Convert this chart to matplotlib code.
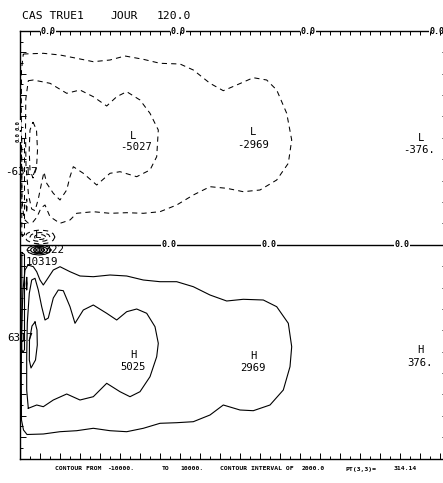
import numpy as np
import matplotlib.pyplot as plt

# contour lines: x = grid distance from the west wall,
# y = distance from the middle (zero) line, positive to the north
neg_2000 = [(0.33, 19.05), (2.33, 19.12), (4.0, 18.95), (5.67, 18.62), (7.33, 18.28), (9.0, 18.45),
            (10.5, 18.85), (12.33, 18.52), (14.0, 18.12), (16.0, 18.05), (17.33, 17.45), (19.0, 16.12),
            (20.33, 15.38), (21.67, 15.95), (23.33, 16.68), (24.67, 16.45), (25.67, 15.45), (26.67, 13.12),
            (27.17, 10.45), (26.83, 8.12), (25.67, 6.45), (24.0, 5.45), (22.33, 5.28), (20.67, 5.62),
            (19.0, 5.78), (17.33, 4.95), (15.67, 3.95), (14.0, 3.28), (12.33, 3.12), (10.67, 3.18),
            (9.0, 3.12), (7.33, 3.28), (5.67, 3.12), (5.0, 2.45), (4.0, 2.12), (3.0, 2.78), (2.5, 3.95),
            (2.1, 3.65), (1.7, 2.75), (1.3, 2.25), (0.8, 2.15), (0.4, 2.55), (0.2, 4.45), (0.15, 8.45),
            (0.13, 13.45), (0.15, 17.45)]
neg_4000 = [(0.83, 16.38), (1.33, 16.45), (3.0, 16.12), (4.67, 15.12), (6.0, 15.45), (7.33, 14.78),
            (8.67, 13.85), (9.67, 14.78), (10.67, 15.28), (12.0, 14.45), (13.0, 13.12), (13.83, 11.45),
            (13.67, 8.78), (13.0, 7.45), (11.67, 6.78), (10.0, 7.28), (9.0, 7.12), (7.67, 5.95),
            (6.33, 7.12), (5.33, 7.78), (5.0, 6.78), (4.67, 5.45), (4.0, 4.45), (3.33, 5.12), (2.67, 6.12),
            (2.4, 7.25), (2.17, 6.22), (1.83, 4.55), (1.5, 3.38), (1.17, 3.55), (0.85, 4.95), (0.6, 7.85),
            (0.55, 11.25), (0.58, 14.55)]
neg_6000 = [(1.3, 12.25), (1.65, 11.45), (1.75, 9.45), (1.65, 7.65), (1.3, 6.65), (1.0, 7.45),
            (0.92, 9.45), (1.0, 11.45)]
neg_wall = [(0.2, 0.8), (0.45, 1.0), (0.45, 10.5), (0.3, 10.8), (0.18, 10.5), (0.18, 1.0)]
neg_small = [(0.67, 3.3), (0.72, 3.9), (0.67, 4.55), (0.62, 3.9)]
neg_core1 = [(3.5, 0.75), (3.3, 1.1), (2.75, 1.36), (2.0, 1.45), (1.25, 1.36), (0.7, 1.1), (0.5, 0.75),
             (0.7, 0.4), (1.25, 0.14), (2.0, 0.05), (2.75, 0.14), (3.3, 0.4)]
neg_core2 = [(3.0, 0.75), (2.87, 0.98), (2.5, 1.14), (2.0, 1.2), (1.5, 1.14), (1.13, 0.98), (1.0, 0.75),
             (1.13, 0.52), (1.5, 0.36), (2.0, 0.3), (2.5, 0.36), (2.87, 0.52)]
neg_core3 = [(2.55, 0.75), (2.48, 0.88), (2.28, 0.97), (2.0, 1.0), (1.72, 0.97), (1.52, 0.88),
             (1.45, 0.75), (1.52, 0.62), (1.72, 0.53), (2.0, 0.5), (2.28, 0.53), (2.48, 0.62)]

pos_2000 = [(0.8, -2.05), (0.5, -2.55), (0.3, -4.55), (0.15, -8.55), (0.13, -13.55), (0.15, -17.55),
            (0.35, -18.55), (0.7, -19.0), (2.33, -18.95), (4.0, -18.72), (5.67, -18.62), (7.33, -18.38),
            (9.0, -18.62), (10.67, -18.72), (12.33, -18.38), (14.0, -17.88), (15.67, -17.82),
            (17.33, -17.72), (19.0, -17.05), (20.33, -16.05), (22.0, -16.55), (23.33, -16.62),
            (25.0, -16.05), (26.33, -14.55), (27.0, -12.22), (27.17, -10.22), (26.83, -7.88),
            (25.67, -6.22), (24.33, -5.55), (22.33, -5.48), (20.67, -5.65), (19.0, -5.05), (17.33, -4.22),
            (15.67, -3.72), (14.0, -3.72), (12.33, -3.55), (10.67, -3.15), (9.0, -3.05), (7.33, -3.22),
            (6.0, -3.15), (5.0, -2.72), (4.0, -2.22), (3.33, -2.55), (2.67, -3.55), (2.33, -4.05),
            (2.0, -3.55), (1.67, -2.72), (1.33, -2.22)]
pos_4000 = [(0.83, -16.38), (1.67, -16.05), (2.33, -16.22), (3.33, -15.55), (4.67, -14.95), (6.0, -15.55),
            (7.33, -15.22), (8.67, -13.88), (10.0, -14.72), (11.0, -15.22), (12.0, -14.72), (13.0, -13.22),
            (13.67, -11.22), (13.83, -9.88), (13.5, -8.22), (12.67, -6.88), (11.67, -6.45), (10.67, -6.72),
            (9.67, -7.55), (8.67, -6.88), (7.33, -6.05), (6.33, -6.55), (5.5, -7.88), (5.0, -6.22),
            (4.33, -4.62), (3.83, -4.55), (3.33, -5.35), (2.83, -7.35), (2.5, -7.55), (2.17, -6.22),
            (1.83, -4.55), (1.5, -3.38), (1.17, -3.55), (0.93, -4.88), (0.73, -7.85), (0.67, -11.22),
            (0.67, -14.55)]
pos_6000 = [(1.5, -7.75), (1.7, -8.55), (1.73, -10.05), (1.55, -11.55), (1.1, -12.35), (0.93, -11.55),
            (0.95, -9.55), (1.2, -8.15)]
pos_wall = [(0.2, -0.8), (0.45, -1.0), (0.45, -10.5), (0.3, -10.8), (0.18, -10.5), (0.18, -1.0)]
pos_small = [(0.67, -3.3), (0.72, -3.9), (0.67, -4.55), (0.62, -3.9)]
pos_core1 = [(3.1, -0.55), (2.94, -0.3), (2.5, -0.12), (1.9, -0.05), (1.3, -0.12), (0.86, -0.3),
             (0.7, -0.55), (0.86, -0.8), (1.3, -0.98), (1.9, -1.05), (2.5, -0.98), (2.94, -0.8)]
pos_core2 = [(2.75, -0.55), (2.64, -0.37), (2.33, -0.23), (1.9, -0.18), (1.47, -0.23), (1.16, -0.37),
             (1.05, -0.55), (1.16, -0.73), (1.47, -0.87), (1.9, -0.92), (2.33, -0.87), (2.64, -0.73)]
pos_core3 = [(2.45, -0.55), (2.38, -0.43), (2.18, -0.33), (1.9, -0.3), (1.62, -0.33), (1.42, -0.43),
             (1.35, -0.55), (1.42, -0.67), (1.62, -0.77), (1.9, -0.8), (2.18, -0.77), (2.38, -0.67)]
pos_core4 = [(2.18, -0.55), (2.14, -0.49), (2.04, -0.44), (1.9, -0.42), (1.76, -0.44), (1.66, -0.49),
             (1.62, -0.55), (1.66, -0.61), (1.76, -0.66), (1.9, -0.68), (2.04, -0.66), (2.14, -0.61)]

neg_lines = [neg_2000, neg_4000, neg_6000, neg_wall, neg_small, neg_core1, neg_core2, neg_core3]
pos_lines = [pos_2000, pos_4000, pos_6000, pos_wall, pos_small, pos_core1, pos_core2, pos_core3, pos_core4]

# zero contour (middle line) and where its labels sit
zero_x = [0.0, 42.4]
zero_y = [0.0, 0.0]
mid_label_x = [14.9, 24.9, 38.2]
top_label_x = [2.8, 15.8, 28.8, 41.7]
left_label_y = [11.95, 10.75]

# highs / lows
low_pos = [(11.27, 10.85), (23.27, 11.28), (40.1, 10.65)]
low_val_pos = [(11.58, 9.72), (23.33, 9.95), (39.9, 9.45)]
low_vals = ['-5027', '-2969', '-376.']
high_pos = [(11.33, -11.05), (23.33, -11.15), (40.0, -10.55)]
high_val_pos = [(11.33, -12.22), (23.33, -12.32), (40.0, -11.8)]
high_vals = ['5025', '2969', '376.']
edge_vals = ['-6317', '6317', '-10322', '10319']
edge_pos = [(0.15, 7.25), (0.05, -9.35), (2.5, -0.55), (2.15, -1.75)]

xmin, xmax = 0.0, 42.4
ymin, ymax = -21.4, 21.35
mono = 'DejaVu Sans Mono'

fig = plt.figure(figsize=(4.43, 4.83), dpi=100)
ax = fig.add_axes([20 / 443, 24.5 / 483, 424 / 443, 427.5 / 483])
ax.set_xlim(xmin, xmax)
ax.set_ylim(ymin, ymax)

for line in neg_lines:
    arr = np.array(line + [line[0]])
    ax.plot(arr[:, 0], arr[:, 1], color='k', lw=0.75, ls=(0, (5, 4)))
for line in pos_lines:
    arr = np.array(line + [line[0]])
    ax.plot(arr[:, 0], arr[:, 1], color='k', lw=0.8)

ax.plot(zero_x, zero_y, color='k', lw=1.0)
zbox = dict(facecolor='white', edgecolor='none', pad=0.6)
for x in mid_label_x:
    ax.text(x, 0, '0.0', family=mono, weight='bold', size=6, ha='center', va='center', bbox=zbox)
for x in top_label_x:
    ax.text(x, ymax, '0.0', family=mono, weight='bold', size=6, ha='center', va='center', bbox=zbox)
for y in left_label_y:
    ax.text(-0.2, y, '0.0', family=mono, weight='bold', size=4, ha='center', va='center',
            rotation=90, bbox=dict(facecolor='white', edgecolor='none', pad=0.2))

for (x, y), (vx, vy), v in zip(low_pos, low_val_pos, low_vals):
    ax.text(x, y, 'L', family=mono, size=7.6, ha='center', va='center')
    ax.text(vx, vy, v, family=mono, size=7.6, ha='center', va='center')
for (x, y), (vx, vy), v in zip(high_pos, high_val_pos, high_vals):
    ax.text(x, y, 'H', family=mono, size=7.6, ha='center', va='center')
    ax.text(vx, vy, v, family=mono, size=7.6, ha='center', va='center')
for (x, y), v in zip(edge_pos, edge_vals):
    ax.text(x, y, v, family=mono, size=7.8, ha='center', va='center')
ax.text(1.8, 0.95, 'L', family=mono, size=7.6, ha='center', va='center')

# frame and tick marks
for s in ax.spines.values():
    s.set_linewidth(1.0)
yt = np.linspace(ymin, ymax, 41)
ax.set_xticks(np.arange(0, 43, 2))
ax.set_xticks(np.arange(1, 43, 2), minor=True)
ax.set_yticks(yt[::2])
ax.set_yticks(yt[1::2], minor=True)
ax.tick_params(which='major', direction='in', length=4, width=0.7, top=False, right=False,
               labelbottom=False, labelleft=False)
ax.tick_params(which='minor', direction='in', length=2, width=0.7, top=False, right=False)

axt = ax.twiny()
axt.set_xlim(xmin, xmax)
axt.set_xticks(np.arange(0, 43, 1))
axt.tick_params(direction='in', length=3.2, width=0.7, labeltop=False)
axr = ax.twinx()
axr.set_ylim(ymin, ymax)
axr.set_yticks(yt[::2])
axr.tick_params(direction='in', length=1.5, width=0.7, labelright=False)
for a in (axt, axr):
    for s in a.spines.values():
        s.set_visible(False)

# title and footer
fig.text(21.7 / 443, 1 - 16 / 483, 'CAS TRUE1', family=mono, size=8.2, va='center')
fig.text(110 / 443, 1 - 16 / 483, 'JOUR', family=mono, size=8.2, va='center')
fig.text(156.7 / 443, 1 - 16 / 483, '120.0', family=mono, size=8.2, va='center')

footer = ['CONTOUR FROM', '-10000.', 'TO', '10000.', 'CONTOUR INTERVAL OF', '2000.0', 'PT(3,3)=', '314.14']
footer_x = [55, 106.7, 161.7, 180, 220, 301.7, 345, 393.3]
for t, x in zip(footer, footer_x):
    fig.text(x / 443, 1 - 469 / 483, t, family=mono, weight='bold', size=4.6, va='center')

fig.savefig('out.png', dpi=100)
